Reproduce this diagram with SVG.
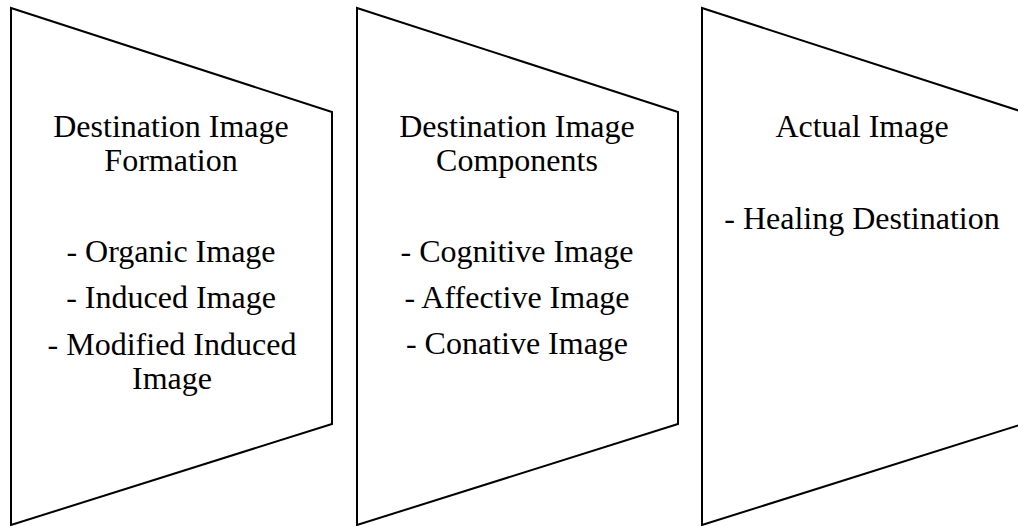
<svg xmlns="http://www.w3.org/2000/svg" width="1018" height="526" viewBox="0 0 1018 526">
<style>
.shape{fill:#ffffff;stroke:#000000;stroke-width:2;stroke-linejoin:miter}
text{font-family:"Liberation Serif","Times New Roman",serif;font-size:32px;fill:#000000;text-anchor:middle}
</style>
<rect width="1018" height="526" fill="#ffffff"/>
<g id="node-formation">
<polygon class="shape" points="11,8 332,112 332,424 11,525"/>
<text x="171" y="137">Destination Image</text>
<text x="171" y="171">Formation</text>
<text x="171" y="262">- Organic Image</text>
<text x="171" y="308">- Induced Image</text>
<text x="172" y="355">- Modified Induced</text>
<text x="172" y="389">Image</text>
</g>
<g id="node-components">
<polygon class="shape" points="357,8 678,112 678,424 357,525"/>
<text x="517" y="137">Destination Image</text>
<text x="517" y="171">Components</text>
<text x="517" y="262">- Cognitive Image</text>
<text x="517" y="308">- Affective Image</text>
<text x="517" y="354">- Conative Image</text>
</g>
<g id="node-actual">
<polygon class="shape" points="702,8 1023,112 1023,424 702,525"/>
<text x="862" y="137">Actual Image</text>
<text x="862" y="229">- Healing Destination</text>
</g>
<g id="connectors"></g>
</svg>
